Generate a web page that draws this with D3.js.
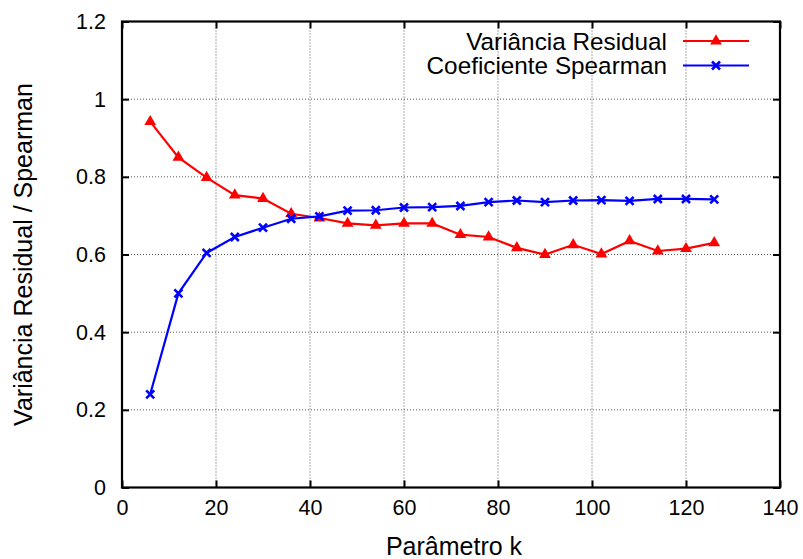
<!DOCTYPE html>
<html>
<head>
<meta charset="utf-8">
<script src="https://cdn.jsdelivr.net/npm/d3@7/dist/d3.min.js"></script>
<style>
  html, body { margin: 0; padding: 0; background: #fff; }
  svg { display: block; }
  text { font-family: "Liberation Sans", Arial, Helvetica, sans-serif; fill: #000; }
</style>
</head>
<body>
<svg id="chart" width="803" height="559"></svg>
<script>
// k values and the two measured series
const kValues = [6, 12, 18, 24, 30, 36, 42, 48, 54, 60, 66, 72, 78, 84, 90, 96, 102, 108, 114, 120, 126];
const varianciaResidual = [0.942, 0.850, 0.798, 0.753, 0.744, 0.705, 0.694, 0.680, 0.675, 0.680, 0.680,
  0.651, 0.645, 0.617, 0.600, 0.625, 0.601, 0.635, 0.609, 0.615, 0.630];
const coeficienteSpearman = [0.240, 0.500, 0.604, 0.645, 0.669, 0.692, 0.698, 0.713, 0.714, 0.721, 0.722,
  0.725, 0.735, 0.739, 0.735, 0.739, 0.740, 0.738, 0.743, 0.743, 0.742];

const xTicks = [0, 20, 40, 60, 80, 100, 120, 140];
const yTicks = [0, 0.2, 0.4, 0.6, 0.8, 1, 1.2];
const yTickLabels = ["0", "0.2", "0.4", "0.6", "0.8", "1", "1.2"];

const seriesNames = ["Variância Residual", "Coeficiente Spearman"];
const xTitle = "Parâmetro k";
const yTitle = "Variância Residual / Spearman";

const svg = d3.select("#chart");
const plotLeft = 122, plotRight = 780, plotTop = 21.5, plotBottom = 487.5;

const x = d3.scaleLinear().domain([0, 140]).range([plotLeft, plotRight]);
const y = d3.scaleLinear().domain([0, 1.2]).range([plotBottom, plotTop]);

// dotted grid
const grid = svg.append("g");
xTicks.filter(t => t > 0 && t < 140).forEach(t => {
  grid.append("line")
    .attr("x1", x(t)).attr("x2", x(t)).attr("y1", plotTop).attr("y2", plotBottom)
    .attr("stroke", "#555").attr("stroke-width", 1).attr("stroke-dasharray", "1,2");
});
yTicks.filter(t => t > 0 && t < 1.2).forEach(t => {
  grid.append("line")
    .attr("x1", plotLeft).attr("x2", plotRight).attr("y1", y(t)).attr("y2", y(t))
    .attr("stroke", "#555").attr("stroke-width", 1).attr("stroke-dasharray", "1,2");
});

// axes with inward ticks on all four sides
const tickLen = 7;
const axB = svg.append("g").attr("transform", `translate(0,${plotBottom})`)
  .call(d3.axisBottom(x).tickValues(xTicks).tickSize(-tickLen).tickPadding(12).tickFormat(d3.format("d")));
const axT = svg.append("g").attr("transform", `translate(0,${plotTop})`)
  .call(d3.axisTop(x).tickValues(xTicks).tickSize(-tickLen).tickFormat(""));
const axL = svg.append("g").attr("transform", `translate(${plotLeft},0)`)
  .call(d3.axisLeft(y).tickValues(yTicks).tickSize(-tickLen).tickPadding(16).tickFormat((d, i) => yTickLabels[i]));
const axR = svg.append("g").attr("transform", `translate(${plotRight},0)`)
  .call(d3.axisRight(y).tickValues(yTicks).tickSize(-tickLen).tickFormat(""));

[axB, axT, axL, axR].forEach(a => {
  a.select(".domain").remove();
  a.selectAll(".tick line").attr("stroke", "#000").attr("stroke-width", 2);
  a.selectAll("text").attr("font-size", 21.5).attr("font-family", "Liberation Sans, Arial, sans-serif").attr("fill", "#000");
});
axB.selectAll("text").attr("dy", "0.71em");

// border
svg.append("rect")
  .attr("x", plotLeft).attr("y", plotTop).attr("width", plotRight - plotLeft).attr("height", plotBottom - plotTop)
  .attr("fill", "none").attr("stroke", "#000").attr("stroke-width", 2.2);

// series
const line = d3.line().x(d => x(d[0])).y(d => y(d[1]));
const redData = kValues.map((k, i) => [k, varianciaResidual[i]]);
const blueData = kValues.map((k, i) => [k, coeficienteSpearman[i]]);

const triangle = d3.symbol().type(d3.symbolTriangle).size(60);
function drawTriangle(g, cx, cy) {
  g.append("path").attr("d", triangle()).attr("transform", `translate(${cx},${cy})`)
    .attr("fill", "#ff0000");
}
function drawCross(g, cx, cy) {
  const s = 4;
  g.append("path")
    .attr("d", `M${cx - s},${cy - s}L${cx + s},${cy + s}M${cx - s},${cy + s}L${cx + s},${cy - s}`)
    .attr("stroke", "#0000ff").attr("stroke-width", 2.6).attr("fill", "none");
}

const gRed = svg.append("g");
gRed.append("path").datum(redData).attr("d", line)
  .attr("fill", "none").attr("stroke", "#ff0000").attr("stroke-width", 2.2);
redData.forEach(d => drawTriangle(gRed, x(d[0]), y(d[1])));

const gBlue = svg.append("g");
gBlue.append("path").datum(blueData).attr("d", line)
  .attr("fill", "none").attr("stroke", "#0000ff").attr("stroke-width", 2.2);
blueData.forEach(d => drawCross(gBlue, x(d[0]), y(d[1])));

// legend
const legend = svg.append("g");
const legendRows = [
  { name: seriesNames[0], color: "#ff0000", marker: drawTriangle, cy: 41 },
  { name: seriesNames[1], color: "#0000ff", marker: drawCross, cy: 65.5 }
];
legendRows.forEach(r => {
  legend.append("text").attr("x", 667).attr("y", r.cy).attr("dy", "0.35em")
    .attr("text-anchor", "end").attr("font-size", 24.3).text(r.name);
  legend.append("line").attr("x1", 683).attr("x2", 749).attr("y1", r.cy).attr("y2", r.cy)
    .attr("stroke", r.color).attr("stroke-width", 2.2);
  r.marker(legend, 716, r.cy);
});

// axis titles
svg.append("text").attr("x", 454).attr("y", 555).attr("text-anchor", "middle")
  .attr("font-size", 25).text(xTitle);
svg.append("text").attr("transform", `translate(32,${(plotTop + plotBottom) / 2}) rotate(-90)`)
  .attr("text-anchor", "middle").attr("font-size", 25).text(yTitle);
</script>
</body>
</html>
